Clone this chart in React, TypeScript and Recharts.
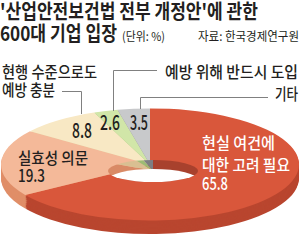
import React from 'react';
import { PieChart, Pie, Cell } from 'recharts';

const categories = ['현실 여건에 대한 고려 필요', '실효성 의문', '현행 수준으로도 예방 충분', '예방 위해 반드시 도입', '기타'];
const values = [65.8, 19.3, 8.8, 2.6, 3.5];
const topColors = ['#d9573b', '#f4b999', '#f8e8c4', '#d1e6a8', '#c8c9cb'];
const sideColors = ['#b9462f', '#e08e68', '#e3c99a', '#a9c47c', '#8d8e92'];
const wallColors = ['#a8412d', '#d98a66', '#d9bf92', '#9dbb74', '#7d7e82'];

const slices = categories.map((name, i) => ({ name, value: values[i] }));

const FONT = '"Noto Sans CJK KR", "Noto Sans", sans-serif';
const INK = '#231f20';

// flatten the round pie into an ellipse, stack darker copies below for the wall
const SCALE_Y = 0.376;
const LAYERS = 12;
const STEP = 3;
const layerOffsets = Array.from({ length: LAYERS }, (_, i) => (LAYERS - i) * STEP);

// hole of the donut, drawn flatter than the outer ring (perspective)
const HOLE = { cx: 153, cy: 171, rx: 45, ry: 11, depth: 9 };

type TProps = {
  x: number;
  y: number;
  w: number;
  size: number;
  weight?: number;
  fill?: string;
  children: React.ReactNode;
};

// text squeezed to the width it has in the print layout
const T: React.FC<TProps> = ({ x, y, w, size, weight = 400, fill = INK, children }) => (
  <text
    x={x}
    y={y}
    fontSize={size}
    fontWeight={weight}
    fill={fill}
    textLength={w}
    lengthAdjust="spacingAndGlyphs"
  >
    {children}
  </text>
);

export default function App() {
  const holeScale = HOLE.ry / HOLE.rx;
  return (
    <div
      style={{
        position: 'absolute',
        left: 0,
        top: 0,
        width: 300,
        height: 242,
        background: '#fff',
        fontFamily: FONT,
        overflow: 'hidden',
      }}
    >
      <div
        style={{
          position: 'absolute',
          left: 0,
          top: 107.6,
          width: 300,
          height: 350,
          transform: `scaleY(${SCALE_Y})`,
          transformOrigin: 'left top',
        }}
      >
        <PieChart width={300} height={350} margin={{ top: 0, right: 0, bottom: 0, left: 0 }}>
          {layerOffsets.map((off) => (
            <Pie
              key={off}
              data={slices}
              dataKey="value"
              cx={150}
              cy={150 + off}
              outerRadius={149}
              startAngle={90}
              endAngle={-270}
              stroke="none"
              isAnimationActive={false}
            >
              {slices.map((s, i) => (
                <Cell key={s.name} fill={sideColors[i]} />
              ))}
            </Pie>
          ))}
          <Pie
            data={slices}
            dataKey="value"
            cx={150}
            cy={150}
            outerRadius={149}
            startAngle={90}
            endAngle={-270}
            stroke="none"
            isAnimationActive={false}
          >
            {slices.map((s, i) => (
              <Cell key={s.name} fill={topColors[i]} />
            ))}
          </Pie>
        </PieChart>
      </div>

      {/* the hole: inner wall seen through the opening, white floor below */}
      <div
        style={{
          position: 'absolute',
          left: 0,
          top: 0,
          width: 300,
          height: 242,
          clipPath: `ellipse(${HOLE.rx}px ${HOLE.ry}px at ${HOLE.cx}px ${HOLE.cy}px)`,
        }}
      >
        <div
          style={{
            position: 'absolute',
            left: 0,
            top: HOLE.cy - 150 * holeScale,
            width: 300,
            height: 300,
            transform: `scaleY(${holeScale})`,
            transformOrigin: 'left top',
          }}
        >
          <PieChart width={300} height={300} margin={{ top: 0, right: 0, bottom: 0, left: 0 }}>
            <Pie
              data={slices}
              dataKey="value"
              cx={HOLE.cx}
              cy={150}
              outerRadius={80}
              startAngle={90}
              endAngle={-270}
              stroke="none"
              isAnimationActive={false}
            >
              {slices.map((s, i) => (
                <Cell key={s.name} fill={wallColors[i]} />
              ))}
            </Pie>
          </PieChart>
        </div>
        <div
          style={{
            position: 'absolute',
            left: HOLE.cx - HOLE.rx,
            top: HOLE.cy - HOLE.ry + HOLE.depth,
            width: HOLE.rx * 2,
            height: HOLE.ry * 2,
            borderRadius: '50%',
            background: '#fff',
          }}
        />
      </div>

      <svg
        width={300}
        height={242}
        style={{ position: 'absolute', left: 0, top: 0, fontFamily: FONT }}
      >
        <g stroke="#808080" strokeWidth={1} fill="none">
          <polyline points="62,91.5 81.5,91.5 81.5,114" />
          <polyline points="157,70.5 113.5,70.5 113.5,111" />
          <polyline points="268,97.5 140.5,97.5 140.5,109" />
        </g>

        <T x={0} y={19} w={258} size={20} weight={700}>'산업안전보건법 전부 개정안'에 관한</T>
        <T x={0} y={41} w={117} size={20} weight={700}>600대 기업 입장</T>
        <T x={122} y={41} w={43} size={12}>(단위: %)</T>
        <T x={198} y={41} w={101} size={12.5}>자료: 한국경제연구원</T>

        <T x={2} y={78} w={95} size={16} weight={500}>현행 수준으로도</T>
        <T x={2} y={96} w={53} size={16} weight={500}>예방 충분</T>
        <T x={165} y={78} w={133} size={16} weight={500}>예방 위해 반드시 도입</T>
        <T x={275} y={100} w={23} size={16} weight={500}>기타</T>

        <T x={72} y={138} w={20} size={20} weight={500}>{values[2].toFixed(1)}</T>
        <T x={100} y={130} w={20} size={20} weight={500}>{values[3].toFixed(1)}</T>
        <T x={130} y={130} w={18} size={20} weight={500}>{values[4].toFixed(1)}</T>

        <T x={18} y={164} w={70} size={16} weight={500}>실효성 의문</T>
        <T x={18} y={182} w={27} size={17} weight={500}>{values[1].toFixed(1)}</T>

        <T x={202} y={149} w={73} size={16} weight={500} fill="#fff">현실 여건에</T>
        <T x={202} y={171} w={88} size={16} weight={500} fill="#fff">대한 고려 필요</T>
        <T x={202} y={190} w={26} size={17} weight={500} fill="#fff">{values[0].toFixed(1)}</T>
      </svg>
    </div>
  );
}
